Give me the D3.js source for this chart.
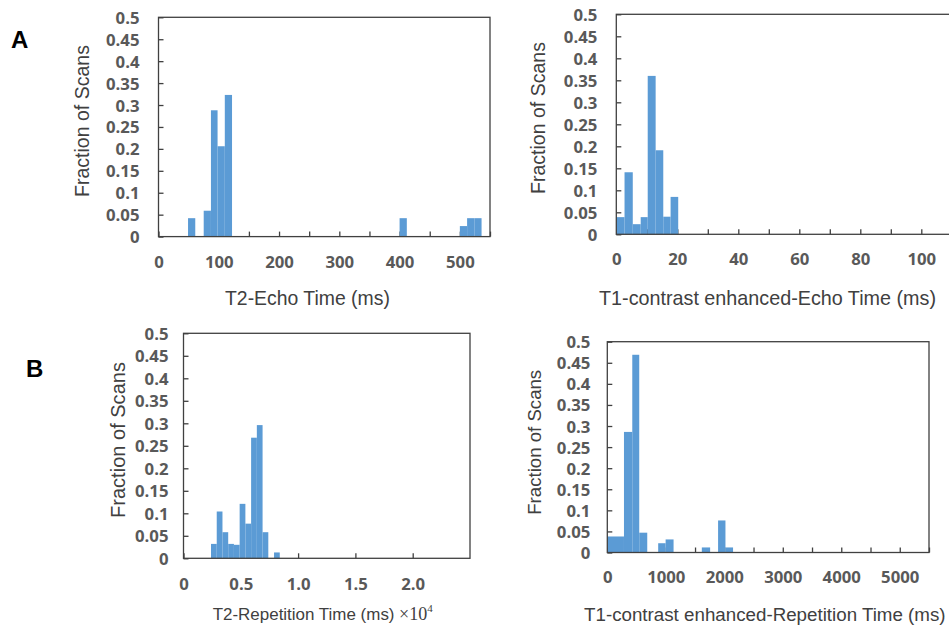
<!DOCTYPE html>
<html>
<head>
<meta charset="utf-8">
<script src="https://cdn.jsdelivr.net/npm/d3@7"></script>
<style>
  body { margin: 0; background: #fff; }
  svg { display: block; }
</style>
</head>
<body>
<div id="chart"></div>
<script>
// histogram bins: lower edge, upper edge, fraction of scans
const t2EchoLo = [49, 75, 87, 98, 110, 400, 500, 512, 524];
const t2EchoHi = [61, 87, 98, 110, 122, 412, 512, 524, 536];
const t2EchoFrac = [0.042, 0.059, 0.288, 0.206, 0.323, 0.042, 0.024, 0.042, 0.042];

const t1EchoLo = [0, 2.7, 5.4, 8, 10.3, 12.9, 15.4, 17.8];
const t1EchoHi = [2.7, 5.4, 8, 10.3, 12.9, 15.4, 17.8, 20.3];
const t1EchoFrac = [0.039, 0.141, 0.023, 0.039, 0.36, 0.191, 0.04, 0.085];

// T2 repetition time in units of 10^4 ms
const t2RepLo = [0.24, 0.29, 0.34, 0.39, 0.44, 0.49, 0.54, 0.59, 0.64, 0.69, 0.79];
const t2RepHi = [0.29, 0.34, 0.39, 0.44, 0.49, 0.54, 0.59, 0.64, 0.69, 0.74, 0.84];
const t2RepFrac = [0.032, 0.104, 0.058, 0.032, 0.030, 0.121, 0.077, 0.268, 0.296, 0.058, 0.013];

const t1RepLo = [0, 285, 427, 546, 870, 997, 1616, 1894, 2020];
const t1RepHi = [285, 427, 546, 683, 997, 1133, 1758, 2020, 2150];
const t1RepFrac = [0.038, 0.286, 0.469, 0.047, 0.022, 0.031, 0.012, 0.076, 0.012];

const yTicks = d3.range(0, 0.5001, 0.05);
const yLabel = "Fraction of Scans";

const t2EchoTicks = d3.range(0, 551, 50);
const t2EchoLabels = [0, 100, 200, 300, 400, 500];
const t1EchoTicks = d3.range(0, 111, 10);
const t1EchoLabels = [0, 20, 40, 60, 80, 100];
const t2RepTicks = [0, 0.5, 1.0, 1.5, 2.0];
const t2RepLabels = [0, 0.5, 1.0, 1.5, 2.0];
const t1RepTicks = d3.range(0, 5501, 500);
const t1RepLabels = [0, 1000, 2000, 3000, 4000, 5000];

const width = 949, height = 627;
const barColor = "#5b9bd5";
const lineColor = "#404040";
const tickFont = "'Open Sans', 'DejaVu Sans', sans-serif";
const titleFont = "'Liberation Sans', Arial, sans-serif";

const svg = d3.select("#chart").append("svg")
  .attr("width", width)
  .attr("height", height);

svg.append("rect").attr("width", width).attr("height", height).attr("fill", "#fff");

// scale a text's font size so it spans the given width
function fitWidth(sel, target) {
  const w = sel.node().getComputedTextLength();
  const fs = parseFloat(sel.attr("font-size"));
  if (w > 0) sel.attr("font-size", fs * target / w);
}

// tick label size: "0.45" is about 33px wide in the figure
const probe = svg.append("text").attr("font-family", tickFont).attr("font-weight", 700)
  .attr("font-size", 16).text("0.45");
fitWidth(probe, 33.5);
const tickSize = Math.min(19.5, parseFloat(probe.attr("font-size")));
probe.remove();

function panel(opt) {
  const x = d3.scaleLinear().domain(opt.xDomain).range([opt.left, opt.right]);
  const y = d3.scaleLinear().domain([0, 0.5]).range([opt.bottom, opt.top]);
  const g = svg.append("g");

  // y axis, ticks pointing inward
  const ya = g.append("g")
    .attr("transform", `translate(${opt.left},0)`)
    .call(d3.axisLeft(y).tickValues(yTicks).tickSizeInner(-5).tickSizeOuter(0)
      .tickPadding(opt.yPad).tickFormat(d => String(+d.toFixed(2))));
  ya.select(".domain").remove();
  ya.selectAll("line").attr("stroke", lineColor).attr("stroke-width", 1.3);
  ya.selectAll("text")
    .attr("dy", "0.36em")
    .attr("font-family", tickFont).attr("font-weight", 700)
    .attr("font-size", tickSize).attr("fill", "#595959");

  // x axis
  const xa = g.append("g")
    .attr("transform", `translate(0,${opt.bottom})`)
    .call(d3.axisBottom(x).tickValues(opt.ticks).tickSizeInner(-5).tickSizeOuter(0)
      .tickFormat(d => opt.labels.some(v => Math.abs(v - d) < 1e-9) ? opt.fmt(d) : ""));
  xa.select(".domain").remove();
  xa.selectAll("line").attr("stroke", lineColor).attr("stroke-width", 1.3);
  xa.selectAll("text")
    .attr("y", opt.xPad).attr("dy", "0.36em")
    .attr("font-family", tickFont).attr("font-weight", 700)
    .attr("font-size", tickSize).attr("fill", "#595959");

  // bars
  g.append("g").selectAll("rect")
    .data(opt.frac.map((f, i) => ({ lo: opt.lo[i], hi: opt.hi[i], f })))
    .join("rect")
    .attr("x", d => x(d.lo))
    .attr("width", d => x(d.hi) - x(d.lo))
    .attr("y", d => y(d.f))
    .attr("height", d => y(0) - y(d.f))
    .attr("fill", barColor);

  // frame
  g.append("rect")
    .attr("x", opt.left).attr("y", opt.top)
    .attr("width", opt.right - opt.left).attr("height", opt.bottom - opt.top)
    .attr("fill", "none").attr("stroke", lineColor).attr("stroke-width", 1.3);

  // titles
  const yt = g.append("text")
    .attr("transform", `translate(${opt.yTitle[0]},${opt.yTitle[1]}) rotate(-90)`)
    .attr("text-anchor", "middle").attr("dy", "0.35em")
    .attr("font-family", titleFont).attr("font-size", 19)
    .attr("fill", "#404040")
    .text(yLabel);
  fitWidth(yt, opt.yTitleLen);

  const xt = g.append("text")
    .attr("x", opt.xTitle[0]).attr("y", opt.xTitle[1])
    .attr("text-anchor", "start").attr("dy", "0.35em")
    .attr("font-family", titleFont).attr("font-size", 19)
    .attr("fill", "#404040")
    .text(opt.xLabel);
  fitWidth(xt, opt.xTitleLen);
}

panel({
  left: 158.5, right: 490, top: 17.3, bottom: 236.6,
  xDomain: [0, 550], ticks: t2EchoTicks, labels: t2EchoLabels, fmt: d => String(d),
  lo: t2EchoLo, hi: t2EchoHi, frac: t2EchoFrac,
  yPad: 19, xPad: 25, yTitle: [82, 121], yTitleLen: 152,
  xTitle: [225, 298], xTitleLen: 165, xLabel: "T2-Echo Time (ms)"
});

panel({
  left: 616.3, right: 951.8, top: 14.3, bottom: 234.3,
  xDomain: [0, 110], ticks: t1EchoTicks, labels: t1EchoLabels, fmt: d => String(d),
  lo: t1EchoLo, hi: t1EchoHi, frac: t1EchoFrac,
  yPad: 19, xPad: 24.4, yTitle: [538, 118], yTitleLen: 152,
  xTitle: [599, 297.7], xTitleLen: 337, xLabel: "T1-contrast enhanced-Echo Time (ms)"
});

panel({
  left: 183.5, right: 470, top: 333.3, bottom: 558.3,
  xDomain: [0, 2.5], ticks: t2RepTicks, labels: t2RepLabels,
  fmt: d => d === 0 ? "0" : d3.format(".1f")(d),
  lo: t2RepLo, hi: t2RepHi, frac: t2RepFrac,
  yPad: 15, xPad: 25.7, yTitle: [117.5, 440], yTitleLen: 156,
  xTitle: [212.7, 614], xTitleLen: 182, xLabel: "T2-Repetition Time (ms)"
});

panel({
  left: 607.3, right: 929, top: 341.7, bottom: 552.5,
  xDomain: [0, 5500], ticks: t1RepTicks, labels: t1RepLabels, fmt: d => String(d),
  lo: t1RepLo, hi: t1RepHi, frac: t1RepFrac,
  yPad: 17, xPad: 24.2, yTitle: [534, 442.3], yTitleLen: 145,
  xTitle: [584, 614], xTitleLen: 362, xLabel: "T1-contrast enhanced-Repetition Time (ms)"
});

// x10^4 multiplier for the T2 repetition axis
const mult = svg.append("text")
  .attr("x", 399).attr("y", 620)
  .attr("font-family", "'Liberation Serif', 'DejaVu Serif', serif")
  .attr("font-size", 18).attr("fill", "#404040");
mult.append("tspan").text("\u00d710");
mult.append("tspan").attr("dy", -8).attr("font-size", 11).text("4");

// panel letters
svg.append("text").attr("x", 11).attr("y", 48)
  .attr("font-family", titleFont).attr("font-weight", 700).attr("font-size", 24)
  .attr("fill", "#000").text("A");
svg.append("text").attr("x", 26).attr("y", 377)
  .attr("font-family", titleFont).attr("font-weight", 700).attr("font-size", 24)
  .attr("fill", "#000").text("B");
</script>
</body>
</html>
